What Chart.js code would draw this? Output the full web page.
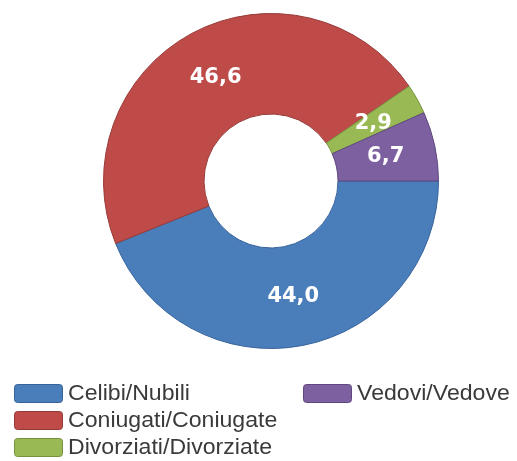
<!DOCTYPE html>
<html>
<head>
<meta charset="utf-8">
<script src="https://cdn.jsdelivr.net/npm/chart.js@4.4.1/dist/chart.umd.min.js"></script>
<style>
  html, body { margin: 0; padding: 0; background: #fff; }
  #wrap { width: 517px; height: 461px; position: relative; }
</style>
</head>
<body>
<div id="wrap"><canvas id="chart"></canvas></div>
<script>
// Stato civile (%)
const LABELS = ['Celibi/Nubili', 'Coniugati/Coniugate', 'Divorziati/Divorziate', 'Vedovi/Vedove'];
const VALUES = [44.0, 46.6, 2.9, 6.7];
const COLORS = ['#4a7ebb', '#be4b48', '#98b954', '#7d60a0'];
const BORDERS = ['#36629a', '#963a38', '#76923f', '#5f4880'];

// values inside the slices, written with a decimal comma
const sliceLabels = {
  id: 'sliceLabels',
  afterDatasetsDraw(chart) {
    const ctx = chart.ctx;
    const meta = chart.getDatasetMeta(0);
    ctx.save();
    ctx.font = 'bold 21px "DejaVu Sans", Verdana, sans-serif';
    ctx.fillStyle = '#ffffff';
    ctx.textAlign = 'center';
    ctx.textBaseline = 'middle';
    meta.data.forEach((arc, i) => {
      const p = arc.tooltipPosition();
      ctx.fillText(VALUES[i].toFixed(1).replace('.', ','), p.x, p.y);
    });
    ctx.restore();
  }
};

// two-column legend under the ring
const columnLegend = {
  id: 'columnLegend',
  afterDraw(chart) {
    const ctx = chart.ctx;
    const colX = [14, 303];
    const top = 384, rowH = 27, perCol = 3;
    ctx.save();
    ctx.font = '22px "Liberation Sans", Arial, sans-serif';
    ctx.textBaseline = 'middle';
    LABELS.forEach((lab, i) => {
      const x = colX[Math.floor(i / perCol)];
      const y = top + (i % perCol) * rowH;
      ctx.beginPath();
      ctx.roundRect(x + 0.5, y + 0.5, 48, 18, 3);
      ctx.fillStyle = COLORS[i];
      ctx.fill();
      ctx.lineWidth = 1;
      ctx.strokeStyle = BORDERS[i];
      ctx.stroke();
      ctx.save();
      ctx.translate(x + 54, y + 10);
      ctx.scale(1.05, 1);
      ctx.fillStyle = '#3a3a3a';
      ctx.fillText(lab, 0, 0);
      ctx.restore();
    });
    ctx.restore();
  }
};

new Chart(document.getElementById('chart'), {
  type: 'doughnut',
  data: {
    labels: LABELS,
    datasets: [{
      data: VALUES,
      backgroundColor: COLORS,
      borderColor: BORDERS,
      borderWidth: 1,
      hoverOffset: 0
    }]
  },
  options: {
    responsive: true,
    maintainAspectRatio: false,
    animation: false,
    cutout: '40%',
    rotation: 90,
    layout: { padding: { top: 13, bottom: 112, left: 103, right: 78 } },
    plugins: {
      legend: { display: false },
      tooltip: { enabled: false }
    }
  },
  plugins: [sliceLabels, columnLegend]
});
</script>
</body>
</html>
